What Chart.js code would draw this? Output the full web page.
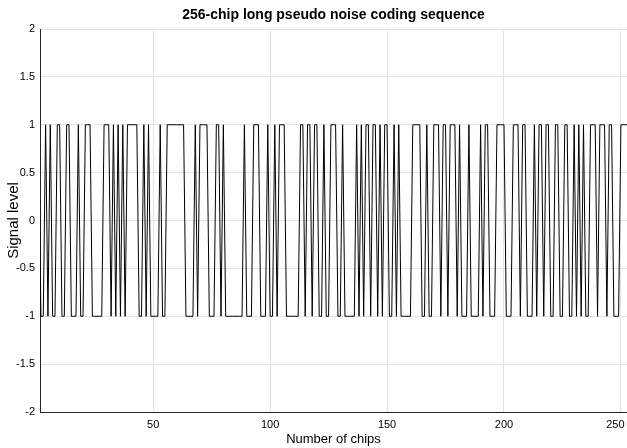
<!DOCTYPE html>
<html>
<head>
<meta charset="utf-8">
<script src="https://cdn.jsdelivr.net/npm/chart.js@4.4.0/dist/chart.umd.min.js"></script>
<style>
  html, body { margin: 0; padding: 0; background: #fff; }
</style>
</head>
<body>
<canvas id="pnChart" width="627" height="448"></canvas>
<script>
// PN code chips, one value per chip (chip 1 first)
const chipLevels = [
   1, -1, -1,  1, -1,  1, -1, -1,  1,  1, -1, -1,  1,  1, -1, -1, -1,  1, -1, -1,
   1,  1,  1, -1, -1, -1, -1, -1,  1,  1,  1, -1,  1, -1,  1, -1,  1, -1,  1,  1,
   1,  1,  1, -1, -1,  1, -1,  1, -1, -1, -1, -1,  1, -1, -1,  1,  1,  1,  1,  1,
   1,  1,  1, -1, -1, -1, -1,  1, -1,  1,  1,  1,  1, -1, -1, -1,  1,  1, -1,  1,
  -1, -1, -1, -1, -1, -1, -1, -1,  1, -1, -1, -1,  1,  1,  1, -1, -1, -1,  1, -1,
  -1,  1, -1,  1,  1,  1, -1, -1, -1, -1, -1, -1,  1,  1, -1,  1,  1, -1,  1,  1,
  -1, -1,  1, -1, -1,  1,  1,  1, -1, -1,  1, -1, -1, -1, -1, -1,  1, -1,  1, -1,
   1,  1, -1,  1,  1, -1,  1, -1,  1,  1, -1, -1,  1, -1,  1, -1, -1, -1, -1, -1,
   1,  1,  1,  1, -1, -1,  1, -1, -1,  1,  1,  1, -1,  1,  1, -1,  1,  1,  1, -1,
   1, -1, -1, -1,  1, -1, -1, -1, -1,  1, -1,  1,  1, -1, -1, -1,  1,  1,  1,  1,
  -1, -1, -1,  1,  1,  1, -1,  1,  1, -1, -1, -1,  1, -1,  1,  1, -1,  1,  1, -1,
  -1,  1,  1, -1, -1,  1,  1, -1, -1,  1, -1,  1, -1,  1, -1, -1,  1,  1,  1, -1,
   1,  1,  1, -1,  1,  1, -1, -1, -1,  1,  1,  1,  1
];

const xTicks = [50, 100, 150, 200, 250];
const yTicks = [-2, -1.5, -1, -0.5, 0, 0.5, 1, 1.5, 2];

const chipPoints = chipLevels.map((v, i) => ({ x: i + 1, y: v }));

const fontFamily = "'Liberation Sans Narrow', 'Liberation Sans', Arial, sans-serif";
const gridColor = '#e3e3e3';

new Chart(document.getElementById('pnChart'), {
  type: 'line',
  data: {
    datasets: [{
      data: chipPoints,
      borderColor: '#000',
      borderWidth: 1,
      pointRadius: 0,
      tension: 0,
      fill: false,
    }]
  },
  options: {
    responsive: false,
    animation: false,
    layout: { padding: 0 },
    plugins: {
      legend: { display: false },
      tooltip: { enabled: false },
      title: {
        display: true,
        fullSize: false,   // centre over the plot area, not the canvas
        text: '256-chip long pseudo noise coding sequence',
        color: '#000',
        font: { family: fontFamily, size: 14, weight: 'bold', lineHeight: 1 },
        padding: { top: 8, bottom: 7 },
      },
    },
    scales: {
      x: {
        type: 'linear',
        min: 1.6,
        max: 252.6,
        afterBuildTicks: scale => { scale.ticks = xTicks.map(v => ({ value: v })); },
        afterFit: scale => {
          scale.height = 36;
          // let the last label hang over the edge instead of shrinking the plot
          scale.paddingLeft = 0;
          scale.paddingRight = 0;
        },
        grid: { color: gridColor, drawTicks: false },
        border: { color: '#262626', width: 1 },
        ticks: {
          color: '#000',
          padding: 6,
          maxRotation: 0,
          font: { family: fontFamily, size: 11 },
          // nudge the last label left so it stays on the canvas
          callback: v => (v === xTicks[xTicks.length - 1] ? v + '\u2002\u2002' : String(v)),
        },
        title: {
          display: true,
          text: 'Number of chips',
          color: '#000',
          font: { family: fontFamily, size: 13, lineHeight: 1 },
          padding: { top: 0, bottom: 2 },
        },
      },
      y: {
        min: -2,
        max: 2,
        afterBuildTicks: scale => { scale.ticks = yTicks.map(v => ({ value: v })); },
        afterFit: scale => { scale.width = 40; },
        grid: { color: gridColor, drawTicks: false },
        border: { color: '#262626', width: 1 },
        ticks: {
          color: '#000',
          padding: 5,
          font: { family: fontFamily, size: 11 },
          callback: v => String(v),
        },
        title: {
          display: true,
          text: 'Signal level',
          color: '#000',
          font: { family: fontFamily, size: 15, lineHeight: 1 },
          padding: { top: 6, bottom: 0 },
        },
      },
    },
  }
});
</script>
</body>
</html>
